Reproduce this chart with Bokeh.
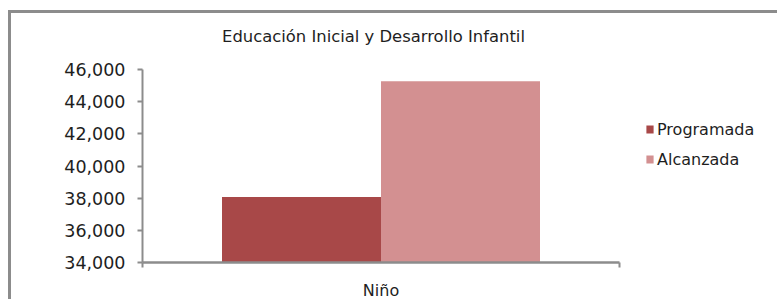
from bokeh.plotting import figure
from bokeh.models import (Range1d, Label, Legend, LegendItem,
                          NumeralTickFormatter, FixedTicker, ColumnDataSource)
from bokeh.transform import dodge
from bokeh.embed import file_html
from bokeh.resources import INLINE

# ---- data ----
categories = ["Niño"]
programada = [38070]
alcanzada = [45270]
series_names = ["Programada", "Alcanzada"]
y_ticks = [34000, 36000, 38000, 40000, 42000, 44000, 46000]
title_text = "Educación Inicial y Desarrollo Infantil"

FONT = "DejaVu Sans"
GRAY = "#8c8c8c"
TXT = "#1e1e1e"
C_PROG = "#a84848"
C_ALC = "#d39091"

W, H = 769, 289
FRAME_L, FRAME_B = 131, 40          # canvas borders
PX_PER_CAT = 477                     # width of one category band
ncat = len(categories)
cat_pos = [i + 0.5 for i in range(ncat)]
x_end = (W - FRAME_L) / PX_PER_CAT   # room for legend right of the band
px_per_unit = 193 / (y_ticks[-1] - y_ticks[0])
y_end = y_ticks[0] + (H - FRAME_B) / px_per_unit  # room for the title above the axis

source = ColumnDataSource(dict(x=cat_pos, prog=programada, alc=alcanzada))

p = figure(x_range=Range1d(0, x_end), y_range=Range1d(y_ticks[0], y_end),
           width=W, height=H, output_backend="svg", toolbar_location=None,
           min_border_left=FRAME_L, min_border_right=0, min_border_top=0,
           min_border_bottom=FRAME_B)
p.styles = {"border-left": f"3px solid {GRAY}", "border-top": f"3px solid {GRAY}",
            "margin-top": "10px", "margin-left": "8px"}
p.outline_line_color = None
p.grid.visible = False
p.background_fill_color = "white"
p.border_fill_color = "white"

bw = 1 / 3
r1 = p.vbar(x=dodge("x", -bw / 2), top="prog", bottom=y_ticks[0],
            width=bw, source=source, fill_color=C_PROG, line_color=None)
r2 = p.vbar(x=dodge("x", bw / 2), top="alc", bottom=y_ticks[0],
            width=bw, source=source, fill_color=C_ALC, line_color=None)

# y axis
ya = p.yaxis[0]
ya.ticker = FixedTicker(ticks=y_ticks)
ya.bounds = (y_ticks[0], y_ticks[-1])
ya.formatter = NumeralTickFormatter(format="0,0")
ya.axis_line_color = GRAY
ya.axis_line_width = 2
ya.major_tick_line_color = GRAY
ya.major_tick_line_width = 2
ya.major_tick_out = 5
ya.major_tick_in = 0
ya.minor_tick_line_color = None
ya.major_label_text_font = FONT
ya.major_label_text_font_size = "17.5px"
ya.major_label_text_color = TXT
ya.major_label_standoff = 12

# x axis: category label at band centre, tick marks at band edges
xa = p.xaxis[0]
xa.ticker = FixedTicker(ticks=cat_pos, minor_ticks=list(range(ncat + 1)))
xa.major_label_overrides = {c: lab for c, lab in zip(cat_pos, categories)}
xa.bounds = (0, ncat)
xa.axis_line_color = GRAY
xa.axis_line_width = 2.5
xa.major_tick_line_color = None
xa.major_tick_out = 0
xa.major_tick_in = 0
xa.minor_tick_line_color = GRAY
xa.minor_tick_line_width = 2
xa.minor_tick_out = 5
xa.minor_tick_in = 0
xa.major_label_text_font = FONT
xa.major_label_text_font_size = "16px"
xa.major_label_text_color = TXT
xa.major_label_standoff = 13

# title (screen units relative to the frame's bottom-left corner)
p.add_layout(Label(x=231, y=226, x_units="screen", y_units="screen", text=title_text,
                   text_align="center", text_baseline="alphabetic",
                   text_font=FONT, text_font_size="16.4px", text_color=TXT))

legend = Legend(items=[LegendItem(label=series_names[0], renderers=[r1]),
                       LegendItem(label=series_names[1], renderers=[r2])],
                location=(503, 93), padding=0, margin=0, border_line_color=None,
                background_fill_alpha=0, glyph_width=9, glyph_height=10,
                label_height=20, spacing=10, label_standoff=3,
                label_text_font=FONT, label_text_font_size="16px",
                label_text_color=TXT)
p.add_layout(legend, "center")

open("out.html", "w").write(file_html(p, INLINE))
